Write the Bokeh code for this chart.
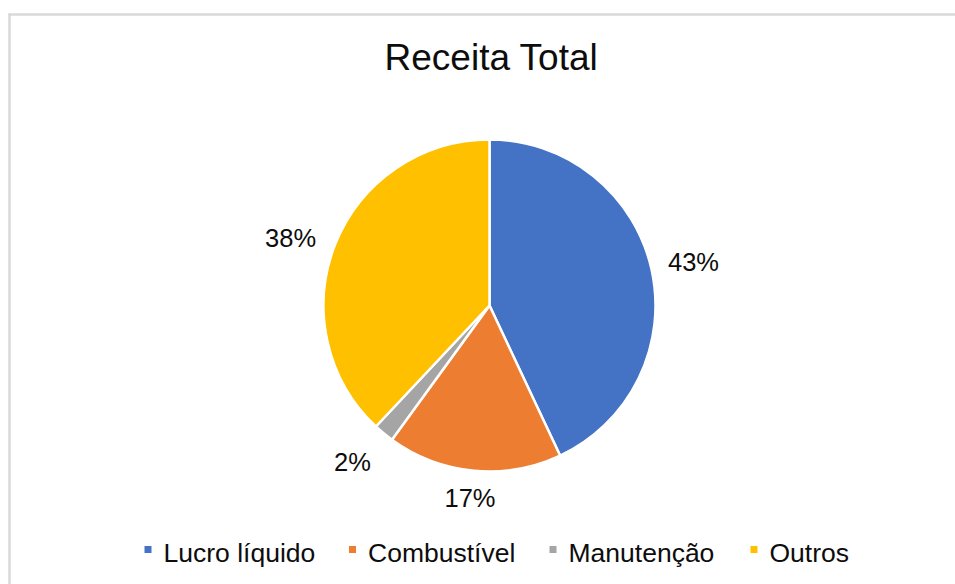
import math
from bokeh.plotting import figure
from bokeh.models import Range1d, ColumnDataSource
from bokeh.core.properties import value
from bokeh.embed import file_html
from bokeh.resources import INLINE

# ---- data ----
categories = ["Lucro líquido", "Combustível", "Manutenção", "Outros"]
shares = [43, 17, 2, 38]
label_texts = ["43%", "17%", "2%", "38%"]
colors = ["#4472C4", "#ED7D31", "#A5A5A5", "#FFC000"]
title_text = "Receita Total"

# ---- layout (page pixel coordinates) ----
W, H = 955, 584
FONT = "Liberation Sans"
cx, cy_page, R = 489, 305, 166
legend_sq_x = [147.5, 352, 552.5, 753.5]
# small placement nudges for the data labels (page px: dx, dy-down)
label_nudge = [(0, 2), (-1, -3), (-5, -3), (-4, 10)]

def Y(page_y):
    return H - page_y

p = figure(width=W, height=H, output_backend="svg", toolbar_location=None,
           x_range=Range1d(0, W), y_range=Range1d(0, H),
           x_axis_type=None, y_axis_type=None, min_border=0,
           background_fill_color="white", border_fill_color="white")
p.outline_line_color = None
p.grid.visible = False

# chart border (top and left visible)
p.segment(x0=[8, 9], y0=[Y(14), Y(13)], x1=[955, 9], y1=[Y(14), Y(584)],
          line_color="#D9D9D9", line_width=2.5)

# wedges
total = float(sum(shares))
starts, ends, mids = [], [], []
a = math.pi / 2
for s in shares:
    sweep = 2 * math.pi * s / total
    starts.append(a)
    ends.append(a - sweep)
    mids.append(a - sweep / 2)
    a -= sweep

src = ColumnDataSource(dict(start=starts, end=ends, color=colors, cat=categories))
p.wedge(x=cx, y=Y(cy_page), radius=R, start_angle="start", end_angle="end",
        direction="clock", fill_color="color", line_color="white", line_width=2.5,
        source=src)

# data labels
lx, ly = [], []
for m, (dx, dy) in zip(mids, label_nudge):
    c, s = math.cos(m), math.sin(m)
    d = R + 16 + abs(c) * 25 + abs(s) * 12
    lx.append(cx + d * c + dx)
    ly.append(Y(cy_page) + d * s - dy)
p.text(x=lx, y=ly, text=label_texts, text_font=value(FONT), text_font_size="25.5px",
       text_align="center", text_baseline="middle", text_color="#0d0d0d")

# title
p.text(x=[491], y=[Y(57)], text=[title_text], text_font=value(FONT),
       text_font_size="37px", text_align="center", text_baseline="middle",
       text_color="#0d0d0d")

# legend
p.scatter(x=legend_sq_x, y=[Y(549)] * 4, marker="square", size=7,
          fill_color=colors, line_color=None)
p.text(x=[x + 15.5 for x in legend_sq_x], y=[Y(552)] * 4, text=categories,
       text_font=value(FONT), text_font_size="26.5px", text_align="left",
       text_baseline="middle", text_color="#0d0d0d")

open("out.html", "w").write(file_html(p, INLINE))
